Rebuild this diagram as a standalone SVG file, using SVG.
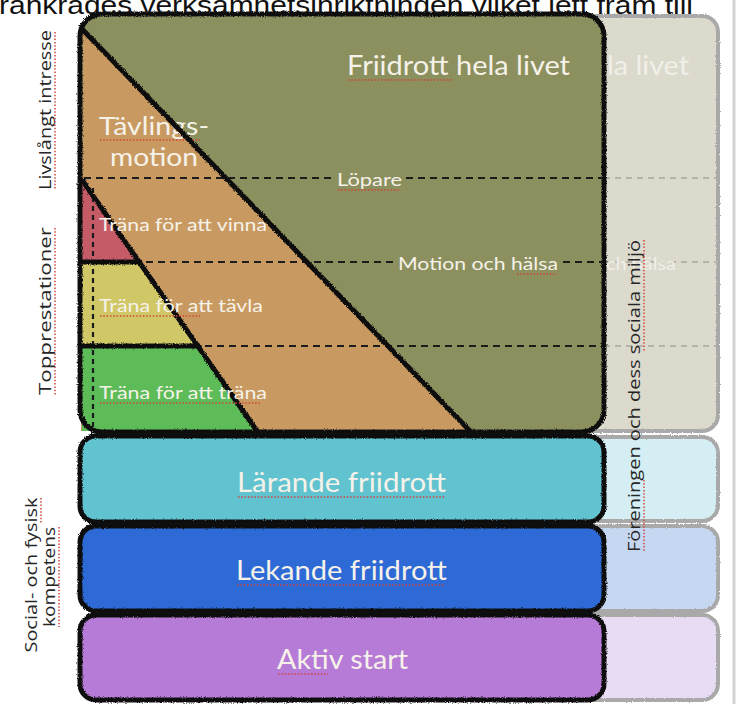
<svg xmlns="http://www.w3.org/2000/svg" width="736" height="704" viewBox="0 0 736 704">
<defs>
<filter id="rough" x="-5%" y="-5%" width="110%" height="110%">
<feTurbulence type="fractalNoise" baseFrequency="0.9" numOctaves="2" seed="3" result="n"/>
<feDisplacementMap in="SourceGraphic" in2="n" scale="3" xChannelSelector="R" yChannelSelector="G"/>
</filter>
<filter id="soft" x="-5%" y="-5%" width="110%" height="110%">
<feTurbulence type="fractalNoise" baseFrequency="0.9" numOctaves="2" seed="7" result="n"/>
<feDisplacementMap in="SourceGraphic" in2="n" scale="2.5" xChannelSelector="R" yChannelSelector="G"/>
</filter>
</defs>
<style>
.wt{font-family:Lato,"Open Sans","Liberation Sans",sans-serif;fill:#f6f2e9}
.ft{font-family:Lato,"Open Sans","Liberation Sans",sans-serif;fill:#f1efe8}
.lbl{font-family:"Open Sans","Liberation Sans",sans-serif;fill:#262626;font-size:17px}
.blk{fill:none;stroke:#111;stroke-width:5;stroke-linejoin:round;stroke-linecap:round}
.box{stroke:#111;stroke-width:5;stroke-linejoin:round}
.gry{stroke:#a9a9a9;stroke-width:4}
.dash{stroke:#1c1c1c;stroke-width:2.2;stroke-dasharray:7 5;fill:none}
.fdash{stroke:#a8a8a0;stroke-width:1.6;stroke-dasharray:6 5;fill:none}
.sp{stroke:#d0453c;stroke-width:1.5;stroke-dasharray:1.5 1.8;fill:none}
</style>
<rect width="736" height="704" fill="#ffffff"/>
<line x1="734" y1="0" x2="734" y2="704" stroke="#d4d4d4" stroke-width="3"/>

<text id="top-caption" x="-1" y="14" font-family="Liberation Sans, Arial, sans-serif" font-size="26" fill="#111" textLength="694" lengthAdjust="spacingAndGlyphs">rankrades verksamhetsinriktningen vilket lett fram till</text>

<!-- faded duplicate column -->
<g id="faded-column">
<g filter="url(#soft)">
<rect x="470" y="16" width="248" height="415" rx="16" fill="#dbdacd" class="gry"/>
<rect x="470" y="437" width="248" height="84" rx="16" fill="#d5eef3" class="gry"/>
<rect x="470" y="526" width="248" height="85" rx="16" fill="#c6d8f1" class="gry"/>
<rect x="470" y="615" width="248" height="85" rx="16" fill="#e7dcf3" class="gry"/>
</g>
<line x1="560" y1="178" x2="716" y2="178" class="fdash"/>
<line x1="560" y1="262" x2="716" y2="262" class="fdash"/>
<line x1="560" y1="346" x2="716" y2="346" class="fdash"/>
<text class="ft" x="607" y="75" font-size="27" textLength="82" lengthAdjust="spacingAndGlyphs">la livet</text>
<text class="ft" x="606" y="270" font-size="18" textLength="70" lengthAdjust="spacingAndGlyphs">ch hälsa</text>
</g>

<!-- main panel -->
<g id="panel-friidrott-hela-livet">
<rect x="80" y="14" width="524" height="418" rx="22" fill="#8b905e"/>
<text class="wt" x="347" y="75" font-size="27" textLength="223" lengthAdjust="spacingAndGlyphs">Friidrott hela livet</text>
<line class="sp" x1="348" y1="80" x2="452" y2="80" stroke="#c76a2a"/>
</g>
<g id="node-tavlingsmotion">
<polygon points="83,28 470,431 81,431" fill="#c89a61"/>
<text class="wt" x="99" y="135" font-size="25.5" textLength="110" lengthAdjust="spacingAndGlyphs">Tävlings-</text>
<text class="wt" x="110" y="166" font-size="25.5" textLength="88" lengthAdjust="spacingAndGlyphs">motion</text>
<line class="sp" x1="100" y1="140" x2="200" y2="140"/>
</g>
<g id="node-trana-for-att-vinna">
<polygon points="82,180 138,261 82,261" fill="#c65b68"/>
</g>
<g id="node-trana-for-att-tavla">
<polygon points="82,263 140,263 198,346 82,346" fill="#d0c866"/>
</g>
<g id="node-trana-for-att-trana">
<polygon points="82,346 198,346 257,431 82,431" fill="#5dbc58"/>
</g>

<g id="connectors">
<line x1="84" y1="178" x2="332" y2="178" class="dash"/>
<line x1="406" y1="178" x2="603" y2="178" class="dash"/>
<line x1="146" y1="262" x2="393" y2="262" class="dash"/>
<line x1="563" y1="262" x2="603" y2="262" class="dash"/>
<line x1="205" y1="346" x2="603" y2="346" class="dash"/>
<line x1="93" y1="188" x2="93" y2="428" class="dash" style="stroke-dasharray:5 4"/>
</g>

<g id="outlines" filter="url(#rough)">
<line x1="83" y1="30" x2="470" y2="431" class="blk"/>
<line x1="82" y1="180" x2="257" y2="431" class="blk"/>
<line x1="82" y1="262" x2="140" y2="262" class="blk"/>
<line x1="82" y1="346" x2="199" y2="346" class="blk"/>
<rect x="80" y="14" width="524" height="418" rx="22" class="blk" stroke-width="6"/>
</g>

<g id="labels-inner">
<text class="wt" x="337" y="186" font-size="18" textLength="65" lengthAdjust="spacingAndGlyphs">Löpare</text>
<line class="sp" x1="338" y1="190" x2="400" y2="190"/>
<text class="wt" x="398" y="270" font-size="18" textLength="160" lengthAdjust="spacingAndGlyphs">Motion och hälsa</text>
<line class="sp" x1="517" y1="274" x2="557" y2="274"/>
<text class="wt" x="99" y="231" font-size="17" textLength="168" lengthAdjust="spacingAndGlyphs">Träna för att vinna</text>
<text class="wt" x="99" y="312" font-size="17" textLength="164" lengthAdjust="spacingAndGlyphs">Träna för att tävla</text>
<line class="sp" x1="100" y1="316" x2="200" y2="316" stroke="#c76a2a"/>
<text class="wt" x="99" y="399" font-size="17" textLength="168" lengthAdjust="spacingAndGlyphs">Träna för att träna</text>
<line class="sp" x1="100" y1="403" x2="260" y2="403" stroke="#c76a2a"/>
</g>

<g id="node-larande-friidrott">
<rect x="80" y="436" width="524" height="86" rx="16" fill="#62c3d0" class="box" filter="url(#rough)"/>
<text class="wt" x="237" y="492" font-size="27" textLength="209" lengthAdjust="spacingAndGlyphs">Lärande friidrott</text>
<line class="sp" x1="238" y1="497" x2="445" y2="497"/>
</g>
<g id="node-lekande-friidrott">
<rect x="80" y="526" width="524" height="85" rx="16" fill="#2e6bd6" class="box" filter="url(#rough)"/>
<text class="wt" x="236" y="580" font-size="27" textLength="211" lengthAdjust="spacingAndGlyphs">Lekande friidrott</text>
<line class="sp" x1="237" y1="585" x2="445" y2="585"/>
</g>
<g id="node-aktiv-start">
<rect x="80" y="615" width="524" height="85" rx="16" fill="#b67ad7" class="box" filter="url(#rough)"/>
<text class="wt" x="277" y="669" font-size="27" textLength="131" lengthAdjust="spacingAndGlyphs">Aktiv start</text>
<line class="sp" x1="278" y1="674" x2="328" y2="674"/>
</g>

<g id="side-labels">
<text class="lbl" transform="translate(51,110) rotate(-90)" text-anchor="middle" textLength="160" lengthAdjust="spacingAndGlyphs">Livslångt intresse</text>
<line class="sp" x1="55" y1="32" x2="55" y2="190"/>
<text class="lbl" transform="translate(51,311) rotate(-90)" text-anchor="middle" textLength="168" lengthAdjust="spacingAndGlyphs">Topprestationer</text>
<line class="sp" x1="55" y1="228" x2="55" y2="395"/>
<text class="lbl" transform="translate(37,575) rotate(-90)" text-anchor="middle" textLength="155" lengthAdjust="spacingAndGlyphs">Social- och fysisk</text>
<line class="sp" x1="41" y1="498" x2="41" y2="523"/>
<text class="lbl" transform="translate(55,577) rotate(-90)" text-anchor="middle" textLength="100" lengthAdjust="spacingAndGlyphs">kompetens</text>
<line class="sp" x1="59" y1="527" x2="59" y2="627"/>
<text class="lbl" transform="translate(640,396) rotate(-90)" text-anchor="middle" font-size="18" fill="#333" textLength="312" lengthAdjust="spacingAndGlyphs">Föreningen och dess sociala miljö</text>
<line class="sp" x1="644" y1="480" x2="644" y2="552"/>
<line class="sp" x1="644" y1="240" x2="644" y2="352" stroke="#e08a7a"/>
</g>
</svg>
